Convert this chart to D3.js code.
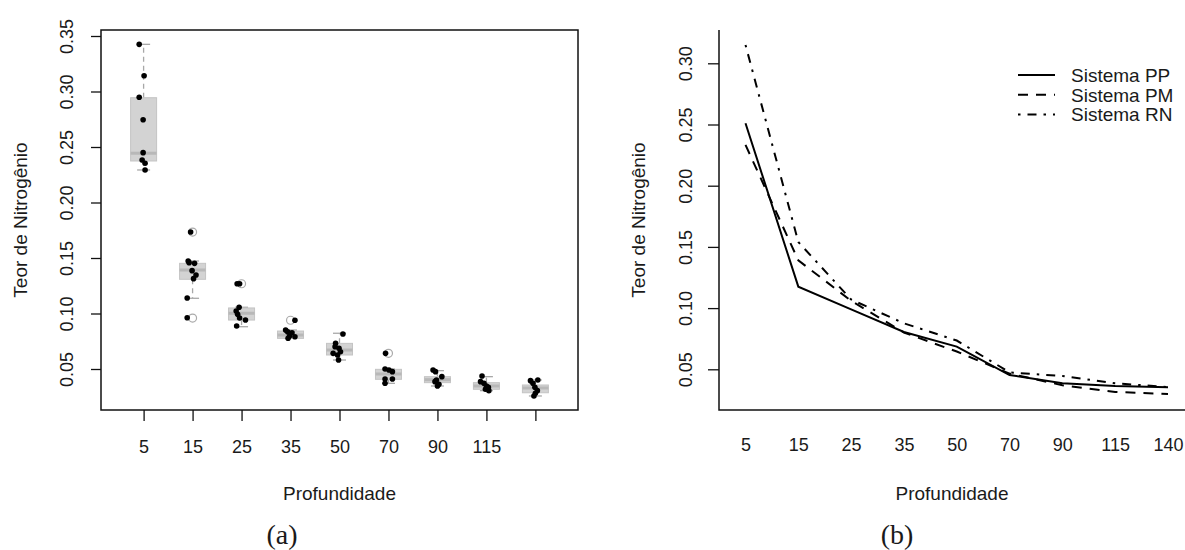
<!DOCTYPE html>
<html>
<head>
<meta charset="utf-8">
<script src="https://cdn.jsdelivr.net/npm/d3@7"></script>
<style>
  body { margin: 0; background: #fff; }
  text { font-family: "Liberation Sans", Arial, sans-serif; fill: #1a1a1a; }
  .cap { font-family: "Liberation Serif", "DejaVu Serif", serif; }
</style>
</head>
<body>
<svg id="fig" width="1185" height="550"></svg>
<script>
// Categories (depth, cm)
var depths = ["5", "15", "25", "35", "50", "70", "90", "115", "140"];
// R drops the last label on the boxplot axis
var boxTickLabels = ["5", "15", "25", "35", "50", "70", "90", "115", ""];

// Boxplot statistics
var boxLow = [0.2293, 0.1137, 0.0881, 0.0777, 0.0581, 0.0371, 0.0347, 0.0305, 0.0257];
var boxQ1 = [0.2374, 0.1308, 0.0941, 0.0776, 0.0626, 0.0407, 0.0377, 0.0317, 0.0286];
var boxMed = [0.2444, 0.1392, 0.1002, 0.0806, 0.0671, 0.0455, 0.0404, 0.0347, 0.0329];
var boxQ3 = [0.2944, 0.1452, 0.1050, 0.0842, 0.0731, 0.0497, 0.0431, 0.0377, 0.0356];
var boxHigh = [0.3425, 0.1473, 0.1056, 0.0851, 0.0822, 0.0500, 0.0485, 0.0431, 0.0401];
var boxOutliers = [[], [0.1734, 0.0959], [0.1268], [0.0939], [], [0.0641], [], [], []];

// Raw observations (jittered points) per depth
var pointValues = [
  [0.3425, 0.3142, 0.2948, 0.2746, 0.2449, 0.2383, 0.2353, 0.2293],
  [0.1734, 0.1473, 0.1458, 0.1452, 0.1386, 0.1347, 0.1314, 0.1140, 0.0962],
  [0.1268, 0.1268, 0.1056, 0.1023, 0.0993, 0.0959, 0.0941, 0.0887],
  [0.0939, 0.0851, 0.0836, 0.0827, 0.0797, 0.0791, 0.0777],
  [0.0815, 0.0732, 0.0701, 0.0686, 0.0656, 0.0641, 0.0626, 0.0581],
  [0.0641, 0.0500, 0.0491, 0.0476, 0.0410, 0.0410, 0.0371],
  [0.0491, 0.0476, 0.0431, 0.0401, 0.0386, 0.0362, 0.0347],
  [0.0437, 0.0386, 0.0371, 0.0347, 0.0335, 0.0317, 0.0305],
  [0.0395, 0.0401, 0.0371, 0.0335, 0.0305, 0.0281, 0.0257]
];
// jitter added to the group index for each observation
var pointJitter = [
  [-0.09, 0.01, -0.09, -0.01, -0.01, -0.03, 0.03, 0.03],
  [-0.04, -0.09, -0.07, 0.04, -0.01, 0.07, 0.02, -0.11, -0.11],
  [-0.09, -0.04, -0.05, -0.11, -0.08, -0.04, 0.08, -0.10],
  [0.09, -0.10, -0.06, 0.03, -0.02, 0.09, -0.05],
  [0.07, -0.08, -0.09, -0.01, 0.02, -0.13, -0.04, -0.02],
  [-0.06, -0.07, 0.01, 0.08, -0.07, 0.08, -0.07],
  [-0.09, -0.04, 0.09, -0.02, -0.05, 0.03, 0.00],
  [-0.09, -0.12, -0.05, 0.00, 0.04, -0.02, 0.05],
  [-0.10, 0.05, -0.05, -0.01, 0.04, 0.00, -0.03]
];

// Mean nitrogen per system, panel (b)
var sistemaPP = [0.251, 0.1175, 0.099, 0.0805, 0.0685, 0.0453, 0.0387, 0.0363, 0.0353];
var sistemaPM = [0.2333, 0.139, 0.106, 0.080, 0.0645, 0.0465, 0.037, 0.0315, 0.0298];
var sistemaRN = [0.315, 0.154, 0.107, 0.0876, 0.0735, 0.0475, 0.0445, 0.0386, 0.0355];

var leftTicks = [0.05, 0.10, 0.15, 0.20, 0.25, 0.30, 0.35];
var rightTicks = [0.05, 0.10, 0.15, 0.20, 0.25, 0.30];

var svg = d3.select("#fig");
var fmt = d3.format(".2f");

// ---------- panel (a): boxplots ----------
var boxArea = { left: 101, right: 578, top: 30, bottom: 410 };

var xBox = d3.scaleLinear()
  .domain([0.13, 9.87])
  .range([boxArea.left, boxArea.right]);
var yBox = d3.scaleLinear()
  .domain([0, 0.35])
  .range([424.5, 424.5 - 1110 * 0.35]);

var gA = svg.append("g");

// frame
gA.append("rect")
  .attr("x", boxArea.left)
  .attr("y", boxArea.top)
  .attr("width", boxArea.right - boxArea.left)
  .attr("height", boxArea.bottom - boxArea.top)
  .attr("fill", "none")
  .attr("stroke", "#111")
  .attr("stroke-width", 1.5);

// y axis
var yAxisA = gA.append("g")
  .attr("transform", `translate(${boxArea.left},0)`)
  .call(d3.axisLeft(yBox).tickValues(leftTicks).tickFormat(fmt).tickSize(10));
yAxisA.select(".domain").remove();
yAxisA.selectAll("line").attr("stroke", "#111").attr("stroke-width", 1.3);
yAxisA.selectAll("text")
  .attr("transform", "rotate(-90)")
  .attr("x", 0).attr("y", -28).attr("dy", 0)
  .attr("text-anchor", "middle")
  .attr("font-size", 18)
  .style("fill", "#1a1a1a");

// x axis
var xAxisA = gA.append("g")
  .attr("transform", `translate(0,${boxArea.bottom})`)
  .call(d3.axisBottom(xBox).tickValues(d3.range(1, 10)).tickFormat((d, i) => boxTickLabels[i]).tickSize(11));
xAxisA.select(".domain").remove();
xAxisA.selectAll("line").attr("stroke", "#111").attr("stroke-width", 1.3);
xAxisA.selectAll("text")
  .attr("y", 43).attr("dy", 0)
  .attr("font-size", 18)
  .style("fill", "#1a1a1a");

var boxW = 26;
var boxes = gA.selectAll(".box")
  .data(depths.map((d, i) => i))
  .enter().append("g")
  .attr("class", "box");

// whiskers (dashed)
boxes.append("line")
  .attr("x1", i => xBox(i + 1)).attr("x2", i => xBox(i + 1))
  .attr("y1", i => yBox(boxQ3[i])).attr("y2", i => yBox(boxHigh[i]))
  .attr("stroke", "#a8a8a8").attr("stroke-width", 1.3)
  .attr("stroke-dasharray", "5,4");
boxes.append("line")
  .attr("x1", i => xBox(i + 1)).attr("x2", i => xBox(i + 1))
  .attr("y1", i => yBox(boxQ1[i])).attr("y2", i => yBox(boxLow[i]))
  .attr("stroke", "#a8a8a8").attr("stroke-width", 1.3)
  .attr("stroke-dasharray", "5,4");
// staples
[boxHigh, boxLow].forEach(function(arr) {
  boxes.append("line")
    .attr("x1", i => xBox(i + 1) - boxW / 4).attr("x2", i => xBox(i + 1) + boxW / 4)
    .attr("y1", i => yBox(arr[i])).attr("y2", i => yBox(arr[i]))
    .attr("stroke", "#a8a8a8").attr("stroke-width", 1.3);
});
// box
boxes.append("rect")
  .attr("x", i => xBox(i + 1) - boxW / 2)
  .attr("y", i => yBox(boxQ3[i]))
  .attr("width", boxW)
  .attr("height", i => yBox(boxQ1[i]) - yBox(boxQ3[i]))
  .attr("fill", "#d3d3d3")
  .attr("stroke", "#c4c4c4")
  .attr("stroke-width", 1);
// median
boxes.append("line")
  .attr("x1", i => xBox(i + 1) - boxW / 2).attr("x2", i => xBox(i + 1) + boxW / 2)
  .attr("y1", i => yBox(boxMed[i])).attr("y2", i => yBox(boxMed[i]))
  .attr("stroke", "#b8b8b8").attr("stroke-width", 3);
// outliers (open circles)
boxes.selectAll(".out")
  .data(i => boxOutliers[i].map(v => ({ i: i, v: v })))
  .enter().append("circle")
  .attr("cx", d => xBox(d.i + 1))
  .attr("cy", d => yBox(d.v))
  .attr("r", 4)
  .attr("fill", "none")
  .attr("stroke", "#aaaaaa")
  .attr("stroke-width", 1.2);
// jittered observations
boxes.selectAll(".pt")
  .data(i => pointValues[i].map((v, k) => ({ x: i + 1 + pointJitter[i][k], v: v })))
  .enter().append("circle")
  .attr("cx", d => xBox(d.x))
  .attr("cy", d => yBox(d.v))
  .attr("r", 2.8)
  .attr("fill", "#000");

gA.append("text")
  .attr("x", 339.5).attr("y", 500)
  .attr("text-anchor", "middle")
  .attr("font-size", 19)
  .text("Profundidade");
gA.append("text")
  .attr("transform", "translate(27,220) rotate(-90)")
  .attr("text-anchor", "middle")
  .attr("font-size", 19)
  .text("Teor de Nitrogênio");
gA.append("text")
  .attr("class", "cap")
  .attr("x", 282).attr("y", 544)
  .attr("text-anchor", "middle")
  .attr("font-size", 28)
  .text("(a)");

// ---------- panel (b): lines ----------
var lineArea = { left: 719, right: 1190, top: 30, bottom: 410 };

var xLine = d3.scalePoint()
  .domain(depths)
  .range([745.5, 1168]);
var yLine = d3.scaleLinear()
  .domain([0, 0.30])
  .range([430.5, 430.5 - 1224 * 0.30]);

var gB = svg.append("g");

// L-shaped frame
gB.append("path")
  .attr("d", `M${lineArea.left},${lineArea.top}V${lineArea.bottom}H${lineArea.right}`)
  .attr("fill", "none")
  .attr("stroke", "#111")
  .attr("stroke-width", 1.5);

var yAxisB = gB.append("g")
  .attr("transform", `translate(${lineArea.left},0)`)
  .call(d3.axisLeft(yLine).tickValues(rightTicks).tickFormat(fmt).tickSize(11));
yAxisB.select(".domain").remove();
yAxisB.selectAll("line").attr("stroke", "#111").attr("stroke-width", 1.3);
yAxisB.selectAll("text")
  .attr("transform", "rotate(-90)")
  .attr("x", 0).attr("y", -27).attr("dy", 0)
  .attr("text-anchor", "middle")
  .attr("font-size", 18)
  .style("fill", "#1a1a1a");

var xAxisB = gB.append("g")
  .attr("transform", `translate(0,${lineArea.bottom})`)
  .call(d3.axisBottom(xLine).tickSize(0));
xAxisB.select(".domain").remove();
xAxisB.selectAll("text")
  .attr("y", 41).attr("dy", 0)
  .attr("font-size", 18)
  .style("fill", "#1a1a1a");

var series = [
  { name: "Sistema PP", values: sistemaPP, dash: null },
  { name: "Sistema PM", values: sistemaPM, dash: "10,8" },
  { name: "Sistema RN", values: sistemaRN, dash: "2.5,7,9,7" }
];

var line = d3.line()
  .x((d, i) => xLine(depths[i]))
  .y(d => yLine(d));

gB.selectAll(".series")
  .data(series)
  .enter().append("path")
  .attr("class", "series")
  .attr("d", d => line(d.values))
  .attr("fill", "none")
  .attr("stroke", "#000")
  .attr("stroke-width", 2)
  .attr("stroke-dasharray", d => d.dash);

// legend
var legend = gB.append("g").attr("transform", "translate(1018,75)");
var legendRows = legend.selectAll(".leg")
  .data(series)
  .enter().append("g")
  .attr("transform", (d, i) => `translate(0,${i * 19.7})`);
legendRows.append("line")
  .attr("x1", 0).attr("x2", 37)
  .attr("stroke", "#000")
  .attr("stroke-width", 2)
  .attr("stroke-dasharray", d => d.dash);
legendRows.append("text")
  .attr("x", 53).attr("y", 6.8)
  .attr("font-size", 19)
  .text(d => d.name);

gB.append("text")
  .attr("x", 952).attr("y", 500)
  .attr("text-anchor", "middle")
  .attr("font-size", 19)
  .text("Profundidade");
gB.append("text")
  .attr("transform", "translate(645,220) rotate(-90)")
  .attr("text-anchor", "middle")
  .attr("font-size", 19)
  .text("Teor de Nitrogênio");
gB.append("text")
  .attr("class", "cap")
  .attr("x", 897).attr("y", 544)
  .attr("text-anchor", "middle")
  .attr("font-size", 28)
  .text("(b)");
</script>
</body>
</html>
